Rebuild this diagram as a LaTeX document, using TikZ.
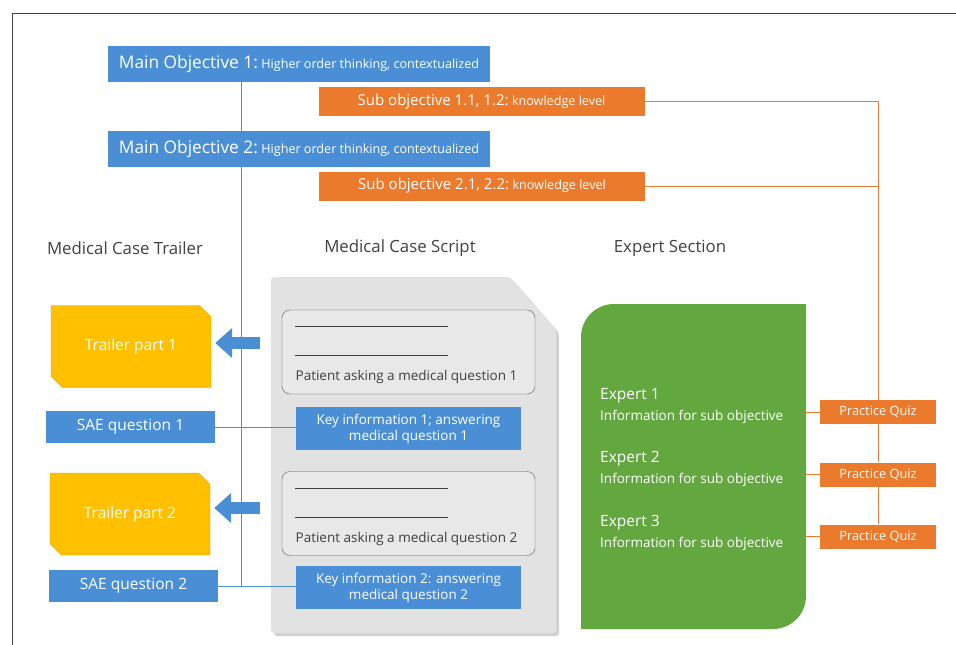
\documentclass[tikz,border=0pt]{standalone}
\usepackage{fontspec}
\setmainfont{Open Sans}
\usetikzlibrary{arrows.meta}
\usetikzlibrary{shapes.misc}
\usetikzlibrary{calc}
\usetikzlibrary{backgrounds}

\definecolor{objblue}{HTML}{4A8FD6}
\definecolor{suborange}{HTML}{EC7A2C}
\definecolor{trailgold}{HTML}{FFC000}
\definecolor{expgreen}{HTML}{62A83E}
\definecolor{docgray}{HTML}{E2E2E2}
\definecolor{titlegray}{HTML}{404040}

\newcommand\fobj{\fontsize{17.3}{20}\selectfont}
\newcommand\fhead{\fontsize{16.8}{20}\selectfont}
\newcommand\fbig{\fontsize{15.5}{18}\selectfont}
\newcommand\fsub{\fontsize{15}{18}\selectfont}
\newcommand\fmid{\fontsize{13.5}{16}\selectfont}
\newcommand\fsmall{\fontsize{12.6}{15}\selectfont}
\newcommand\fquiz{\fontsize{12.8}{15}\selectfont}

\begin{document}
\begin{tikzpicture}[x=1pt,y=-1pt,inner sep=0pt,
  mainobj/.style={fill=objblue,text=white,minimum width=382pt,minimum height=36pt},
  subobj/.style={fill=suborange,text=white,minimum width=326pt,minimum height=29pt},
  header/.style={text=titlegray,font=\fhead},
  trailer/.style={chamfered rectangle,chamfered rectangle corners={north east,south west},
    chamfered rectangle xsep=17pt,fill=trailgold,draw=trailgold!85!black,
    text=white,font=\fbig,minimum width=160pt,minimum height=82pt},
  saebox/.style={fill=objblue,text=white,font=\fbig,minimum width=169pt,minimum height=32pt},
  patbox/.style={draw=black!65,fill=docgray!80!white,rounded corners=8pt,
    minimum width=253pt,minimum height=84pt},
  keyinfo/.style={fill=objblue,text=white,font=\fmid,align=center,
    minimum width=225pt,minimum height=43pt},
  quiz/.style={fill=suborange,text=white,font=\fquiz,minimum width=116pt,minimum height=24pt},
  bline/.style={draw=objblue,line width=1pt},
  oline/.style={draw=suborange,line width=1pt},
  bigarrow/.style={draw=objblue,line width=12pt,-{Triangle[width=29pt,length=17pt]}}]
\useasboundingbox (0,0) rectangle (956,645);
\draw[titlegray,line width=1.5pt] (12.5,645) -- (12.5,13.5) -- (956,13.5);

% objectives
\node[mainobj] (mo1) at (299,64) {{\fobj Main Objective 1:} {\fsmall Higher order thinking, contextualized}};
\node[subobj] (so1) at (481.5,101.5) {{\fsub Sub objective 1.1, 1.2:} {\fsmall knowledge level}};
\node[mainobj] (mo2) at (299,149) {{\fobj Main Objective 2:} {\fsmall Higher order thinking, contextualized}};
\node[subobj] (so2) at (482,186) {{\fsub Sub objective 2.1, 2.2:} {\fsmall knowledge level}};

% column titles
\node[header] (trailhead) at (125,248) {Medical Case Trailer};
\node[header] (scripthead) at (400,248) {Medical Case Script};
\node[header] (experthead) at (670,248) {Expert Section};

% trailer column
\node[trailer] (trailer1) at (131,346.5) {Trailer part 1};
\node[saebox] (sae1) at (130.5,427) {SAE question 1};
\node[trailer] (trailer2) at (130,514) {Trailer part 2};
\node[saebox] (sae2) at (133.5,586) {SAE question 2};

% script column
\node[patbox] (pat1) at (408.5,352) {};
\node[keyinfo] (key1) at (408.5,428.5) {Key information 1; answering\\medical question 1};
\node[patbox] (pat2) at (408.5,513.5) {};
\node[keyinfo] (key2) at (408.5,587.5) {Key information 2: answering\\medical question 2};
\foreach \p/\n in {pat1/1,pat2/2} {
  \draw[black!75,line width=0.9pt] ($(\p.north west)+(13,17)$) -- ++(153,0);
  \draw[black!75,line width=0.9pt] ($(\p.north west)+(13,46)$) -- ++(153,0);
  \node[font=\fmid,text=titlegray] (ask\n) at ($(\p.south)+(-2,-17)$) {Patient asking a medical question \n};
}

% expert column
\foreach \i/\y in {1/396,2/459,3/523} {
  \node[anchor=west,text=white,font=\fbig] (exp\i) at (600,\y) {Expert \i};
  \node[anchor=west,text=white,font=\fmid] (info\i) at (600,\y+21) {Information for sub objective};
}
\foreach \i/\y in {1/412,2/474.5,3/536.5}
  \node[quiz] (q\i) at (878,\y) {Practice Quiz};
\coordinate (expR) at (806,0);
\coordinate (spine) at (241,0);
\coordinate (arr1) at (260,343);
\coordinate (arr2) at (260,508);

\begin{scope}[on background layer]
  \fill[black!18,rounded corners=3pt] (274,280) -- (513,280) -- (559,333) -- (559,636) -- (274,636) -- cycle;
  \fill[docgray,rounded corners=3pt] (271,277) -- (510,277) -- (556,330) -- (556,633) -- (271,633) -- cycle;
  \fill[expgreen] (581,629) -- (581,337) arc[start angle=180,end angle=270,radius=33]
    -- (806,304) -- (806,596) arc[start angle=0,end angle=90,radius=33] -- cycle;
  \draw[bigarrow,shorten >=4pt] (arr1) -- (arr1 -| trailer1.east);
  \draw[bigarrow,shorten >=4pt] (arr2) -- (arr2 -| trailer2.east);
  \draw[bline] (mo1.south -| spine) -- (sae2.east -| spine);
  \draw[bline] (sae1.east) -- (sae1.east -| key1.west);
  \draw[bline] (sae2.east) -- (sae2.east -| key2.west);
  \draw[oline] (so1.east) -- (so1.east -| q1.north) -- (q1.north);
  \draw[oline] (so2.east) -- (so2.east -| q1.north);
  \draw[oline] (q1.south) -- (q2.north);
  \draw[oline] (q2.south) -- (q3.north);
  \foreach \i in {1,2,3}
    \draw[oline] (q\i.west) -- (q\i.west -| expR);
\end{scope}
\end{tikzpicture}
\end{document}
